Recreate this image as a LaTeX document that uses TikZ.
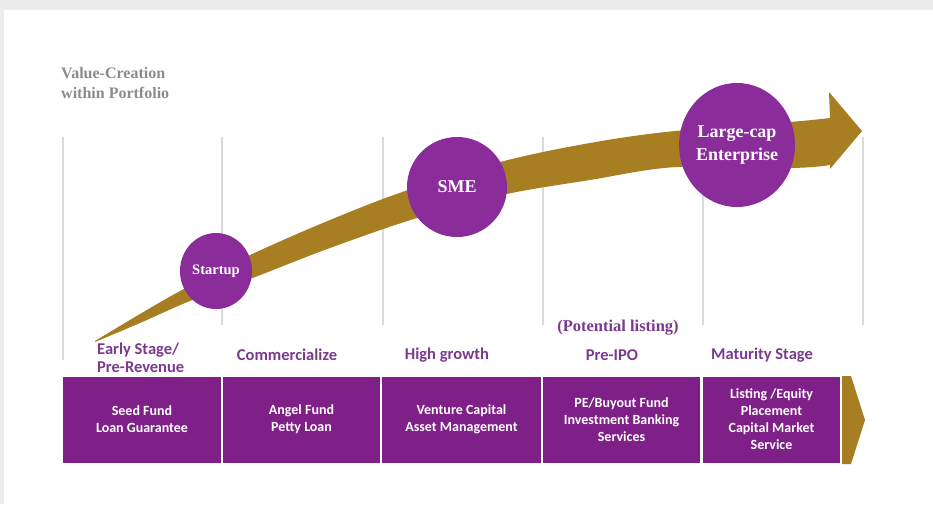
\documentclass[tikz,border=0pt]{standalone}
\usepackage{fontspec}
\setmainfont{Liberation Serif}
\setsansfont{Carlito}
\usetikzlibrary{shapes.geometric}

\definecolor{pagegray}{HTML}{ECECEC}
\definecolor{boxpurple}{HTML}{7E2087}
\definecolor{ballpurple}{HTML}{8A2C9A}
\definecolor{labelpurple}{HTML}{7B3A8E}
\definecolor{gold}{HTML}{A87E22}
\definecolor{gridgray}{HTML}{DADADA}
\definecolor{titlegray}{HTML}{8C8C8C}

\begin{document}
\begin{tikzpicture}[x=1pt,y=-1pt,
  gridline/.style={draw=gridgray, line width=1.2pt},
  servicebox/.style={rectangle, fill=boxpurple, text=white, align=center,
    minimum height=86pt, inner sep=0pt, font=\sffamily\bfseries\fontsize{14}{17}\selectfont},
  stagelabel/.style={text=labelpurple, font=\sffamily\bfseries\fontsize{16.5}{18}\selectfont, inner sep=0pt},
  ball/.style n args={2}{ellipse, fill=ballpurple, text=white, align=center, inner sep=0pt,
    font=\bfseries\fontsize{#1}{#2}\selectfont},
]
% page background and panel
\fill[pagegray] (0,0) rectangle (933,504);
\fill[white] (4,10) rectangle (933,504);
\useasboundingbox (0,0) rectangle (933,504);

% stage separators
\draw[gridline] (63,137) -- (63,360);
\foreach \gx in {222,383,543,703,863}
  \draw[gridline] (\gx,137) -- (\gx,325);

% title
\node[anchor=west, align=left, text=titlegray, inner sep=0pt,
      font=\bfseries\fontsize{16}{20}\selectfont] (title) at (61,83)
  {Value-Creation\\within Portfolio};

% growth arrow
\fill[gold]
  plot[smooth, tension=0.6] coordinates {(95,341) (140,314) (182,290) (248,256) (330,220) (408,190)
     (500,162) (590,143) (675,131) (790,122) (830,118)}
  -- (829,92) -- (862,131) -- (830,169)
  -- plot[smooth, tension=0.6] coordinates {(830,165) (790,168) (677,167) (590,180) (502,195)
     (417,218) (330,248) (250,279) (190,301) (140,323) (95,342)}
  -- cycle;

% company stages along the arrow
\node[ball={14.5}{17}, minimum width=72pt, minimum height=76pt] (startup) at (216,271) {Startup};
\node[ball={18}{21}, minimum width=100pt, minimum height=100pt] (sme) at (457,187) {SME};
\node[ball={18}{23}, minimum width=110pt, minimum height=124pt] (large) at (737,145) {Large-cap\\Enterprise};

% stage labels
\node[stagelabel, anchor=west, align=left] (early) at (97,358) {Early Stage/\\Pre-Revenue};
\node[stagelabel] (comm) at (287,355) {Commercialize};
\node[stagelabel] (high) at (447,355) {High growth};
\node[stagelabel] (preipo) at (612,355) {Pre-IPO};
\node[stagelabel] (mature) at (762,355) {Maturity Stage};
\node[text=labelpurple, inner sep=0pt, font=\bfseries\fontsize{16.5}{18}\selectfont] (listing) at (618,328) {(Potential listing)};

% financing services
\node[servicebox, minimum width=158pt] (seed) at (142,419.5) {Seed Fund\\Loan Guarantee};
\node[servicebox, minimum width=157pt] (angel) at (301.5,419.5) {Angel Fund\\Petty Loan};
\node[servicebox, minimum width=159pt] (vc) at (461.5,419.5) {Venture Capital\\Asset Management};
\node[servicebox, minimum width=157pt] (pe) at (621.5,419.5) {PE/Buyout Fund\\Investment Banking\\Services};
\node[servicebox, minimum width=137pt] (listsvc) at (771.5,419.5) {Listing /Equity\\Placement\\Capital Market\\Service};

% closing chevron
\fill[gold] (842,376) -- (851,376) -- (865,420) -- (851,464) -- (842,464) -- cycle;
\end{tikzpicture}
\end{document}
